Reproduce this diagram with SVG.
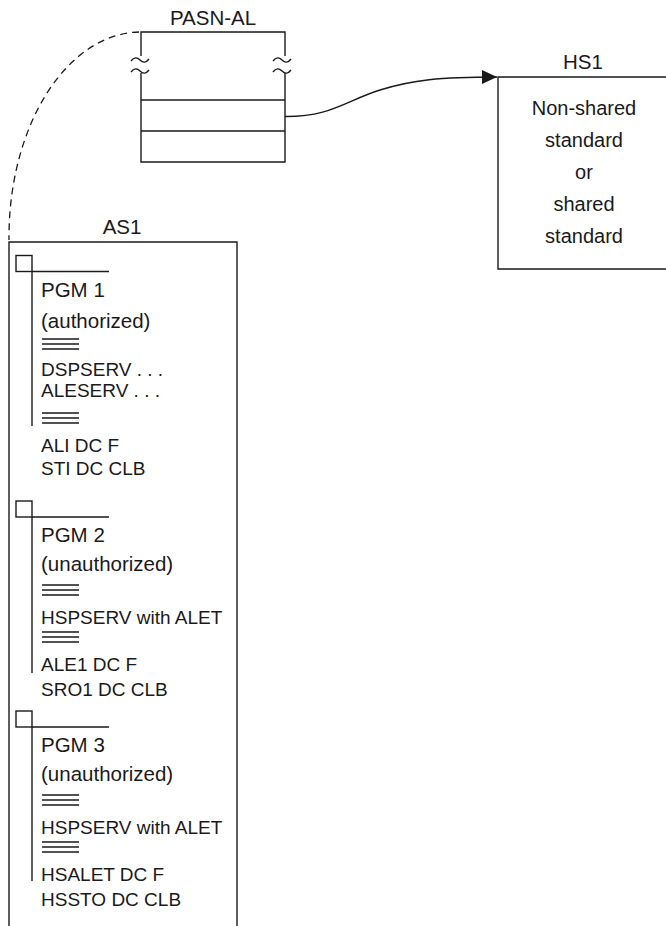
<svg xmlns="http://www.w3.org/2000/svg" width="666" height="926" viewBox="0 0 666 926">
<defs>
<style>
text{font-family:"Liberation Sans",Arial,Helvetica,sans-serif;font-size:19px;fill:#1a1a1a}
.t{font-size:20.5px}
.b{font-size:20px}
.p{font-size:20.5px}
.c{text-anchor:middle}
.ln{fill:none;stroke:#1a1a1a;stroke-width:1.4}
.dash{fill:none;stroke:#1a1a1a;stroke-width:1.3;stroke-dasharray:7 5}
</style>
<marker id="arr" markerWidth="16" markerHeight="14" refX="15" refY="7" orient="auto" markerUnits="userSpaceOnUse">
<path d="M0,0 L15,7 L0,14 z" fill="#1a1a1a"/>
</marker>
<symbol id="eq" overflow="visible">
<path d="M0,0 H37 M0,5 H37 M0,10 H37" fill="none" stroke="#1a1a1a" stroke-width="1.5"/>
</symbol>
</defs>
<rect width="666" height="926" fill="#ffffff"/>

<g id="connectors">
<path class="dash" d="M139,32 A132 205 0 0 0 9,240"/>
<path class="ln" d="M285,116.5 C330,117 345,101 380,90 C412,80 440,77 497,77" marker-end="url(#arr)"/>
</g>

<g id="pasn-al">
<text class="t c" x="213" y="25">PASN-AL</text>
<path class="ln" d="M141,56 V32 H285 V56 M141,73 V162 H285 V73 M141,100 H285 M141,131 H285"/>
<path class="ln" d="M131,61 c3,-4 6,-4 9,-1 s6,3 9,-1 M131,72 c3,-4 6,-4 9,-1 s6,3 9,-1"/>
<path class="ln" d="M273,61 c3,-4 6,-4 9,-1 s6,3 9,-1 M273,72 c3,-4 6,-4 9,-1 s6,3 9,-1"/>
</g>

<g id="hs1">
<text class="t c" x="583" y="69">HS1</text>
<path class="ln" d="M666,77 H498 V269 H666"/>
<text class="b c" x="584" y="115">Non-shared</text>
<text class="b c" x="584" y="147">standard</text>
<text class="b c" x="584" y="179">or</text>
<text class="b c" x="584" y="211">shared</text>
<text class="b c" x="584" y="243">standard</text>
</g>

<g id="as1">
<text class="t c" x="122" y="234">AS1</text>
<path class="ln" d="M9,926 V242 H237 V926"/>
</g>

<g id="pgm1">
<rect class="ln" x="16" y="255.5" width="16" height="16"/>
<path class="ln" d="M32,271.5 H109 M32,271.5 V426"/>
<text class="p" x="41" y="297">PGM 1</text>
<text class="p" x="41" y="328">(authorized)</text>
<use href="#eq" x="42" y="339"/>
<text x="41" y="376">DSPSERV . . .</text>
<text x="41" y="397">ALESERV . . .</text>
<use href="#eq" x="42" y="413"/>
<text x="41" y="452">ALI DC F</text>
<text x="41" y="475">STI DC CLB</text>
</g>

<g id="pgm2">
<rect class="ln" x="16" y="501" width="16" height="16"/>
<path class="ln" d="M32,517 H109 M32,517 V673"/>
<text class="p" x="41" y="542">PGM 2</text>
<text class="p" x="41" y="571">(unauthorized)</text>
<use href="#eq" x="42" y="585"/>
<text x="41" y="624">HSPSERV with ALET</text>
<use href="#eq" x="42" y="632"/>
<text x="41" y="671">ALE1 DC F</text>
<text x="41" y="696">SRO1 DC CLB</text>
</g>

<g id="pgm3">
<rect class="ln" x="16" y="711" width="16" height="16"/>
<path class="ln" d="M32,727 H109 M32,727 V881"/>
<text class="p" x="41" y="752">PGM 3</text>
<text class="p" x="41" y="781">(unauthorized)</text>
<use href="#eq" x="42" y="795"/>
<text x="41" y="834">HSPSERV with ALET</text>
<use href="#eq" x="42" y="842"/>
<text x="41" y="881">HSALET DC F</text>
<text x="41" y="906">HSSTO DC CLB</text>
</g>
</svg>
